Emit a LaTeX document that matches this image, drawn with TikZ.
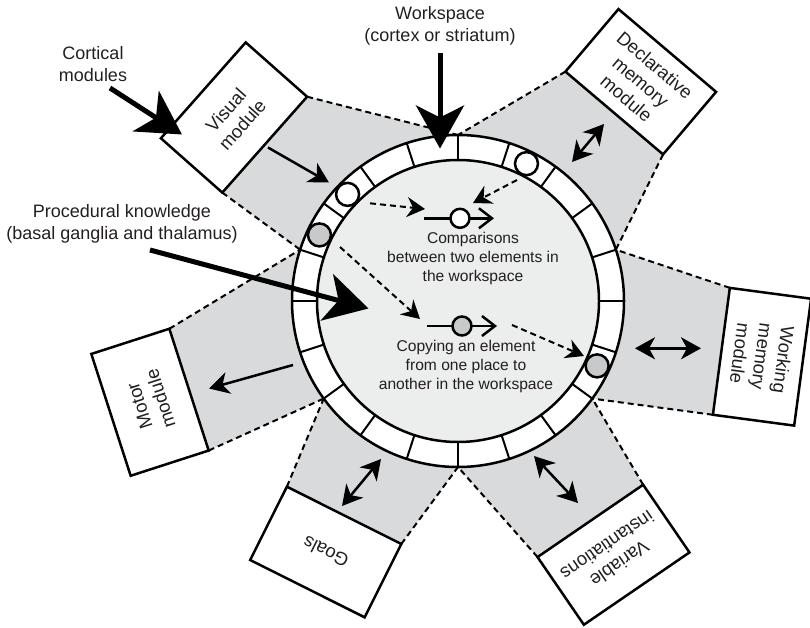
\documentclass[tikz,border=0pt]{standalone}
\usepackage{fontspec}
\setmainfont{Liberation Sans}
\usetikzlibrary{arrows.meta,calc,backgrounds}
\definecolor{sect}{HTML}{D9DADB}
\definecolor{disk}{HTML}{ECEDED}
\definecolor{dotgrey}{HTML}{C8C9CA}
\definecolor{ink}{HTML}{231F20}
\begin{document}
\begin{tikzpicture}[x=1pt,y=1pt,
  modbox/.style={draw=black, line width=2.5pt, fill=white, minimum width=128pt, minimum height=82pt, inner sep=0pt, outer sep=0pt, align=center, text=ink, font=\fontsize{18.5}{22}\selectfont},
  lbl/.style={align=center, text=ink, font=\fontsize{18}{21.7}\selectfont, inner sep=0pt},
  inlbl/.style={align=center, text=ink, font=\fontsize{15.6}{19}\selectfont, inner sep=0pt},
  bnd/.style={line width=2pt, dash pattern=on 6pt off 4pt},
  bigarr/.style={line width=5pt, -{Stealth[length=43pt,width=48pt,inset=12pt]}},
  thinarr/.style={line width=2.5pt, -{Stealth[length=20pt,width=22pt,inset=6pt]}},
  dblarr/.style={line width=2.5pt, {Stealth[length=20pt,width=22pt,inset=6pt]}-{Stealth[length=20pt,width=22pt,inset=6pt]}},
  dasharr/.style={line width=2pt, dash pattern=on 6pt off 4pt, -{Stealth[length=18pt,width=20pt,inset=6pt]}},
  slot/.style={line width=2.5pt, draw=black},
  symline/.style={line width=2.5pt, -{Straight Barb[length=13pt,width=20pt]}}
]
\useasboundingbox (0,0) rectangle (810,-628);
\coordinate (O) at (458,-301);
\foreach \a in {18,90,162,216,270,324} {\coordinate (P\a) at ($(O)+(\a:166)$);}

% module boxes
\node[modbox, rotate=48.5] (vis) at (234,-117.5) {Visual\\module};
\node[modbox, rotate=-40.3] (decl) at (640.75,-81.75) {Declarative\\memory\\module};
\node[modbox, rotate=-97.6] (work) at (762,-356.75) {Working\\memory\\module};
\node[modbox, rotate=-145.6] (var) at (613.5,-554.75) {Variable\\instantiations};
\node[modbox, rotate=153.4] (goal) at (325.75,-552) {Goals};
\node[modbox, rotate=107.9] (mot) at (150,-402.25) {Motor\\module};

% grey sectors
\begin{scope}[on background layer]
\fill[sect] (vis.south east) -- (P90) -- (O) -- (P162) -- (vis.south west) -- cycle;
\fill[sect] (decl.south east) -- (P18) -- (O) -- (P90) -- (decl.south west) -- cycle;
\fill[sect] (work.south east) -- (P324) -- (O) -- (P18) -- (work.south west) -- cycle;
\fill[sect] (var.south east) -- (P270) -- (O) -- (P324) -- (var.south west) -- cycle;
\fill[sect] (goal.south east) -- (P216) -- (O) -- (P270) -- (goal.south west) -- cycle;
\fill[sect] (mot.south east) -- (P162) -- (O) -- (P216) -- (mot.south west) -- cycle;
\end{scope}

% dashed boundaries
\draw[bnd] (vis.south east) -- (P90);
\draw[bnd] (vis.south west) -- (P162);
\draw[bnd] (decl.south east) -- (P18);
\draw[bnd] (decl.south west) -- (P90);
\draw[bnd] (work.south east) -- (P324);
\draw[bnd] (work.south west) -- (P18);
\draw[bnd] (var.south east) -- (P270);
\draw[bnd] (var.south west) -- (P324);
\draw[bnd] (goal.south east) -- (P216);
\draw[bnd] (goal.south west) -- (P270);
\draw[bnd] (mot.south east) -- (P162);
\draw[bnd] (mot.south west) -- (P216);

% workspace ring
\fill[white] (O) circle (166);
\fill[disk] (O) circle (141);
\draw[slot] (O) circle (166);
\draw[slot] (O) circle (141);
\foreach \a in {0,18,...,342} {\draw[line width=2pt] ($(O)+(\a:141)$) -- ($(O)+(\a:166)$);}
\node[circle, draw=black, line width=2.5pt, fill=white, minimum size=23pt, inner sep=0pt] (w1) at ($(O)+(136:153.5)$) {};
\node[circle, draw=black, line width=2.5pt, fill=white, minimum size=23pt, inner sep=0pt] (w2) at ($(O)+(63.5:153.5)$) {};
\node[circle, draw=black, line width=2.5pt, fill=dotgrey, minimum size=23pt, inner sep=0pt] (g1) at ($(O)+(154.5:153.5)$) {};
\node[circle, draw=black, line width=2.5pt, fill=dotgrey, minimum size=23pt, inner sep=0pt] (g2) at ($(O)+(-25:153.5)$) {};

% symbols in the workspace
\coordinate (s1a) at (424,-218.3);
\coordinate (s1b) at (494,-218.3);
\draw[symline] (s1a) -- (s1b);
\node[circle, draw=black, line width=2.5pt, fill=white, minimum size=19pt, inner sep=0pt] (c1) at (460,-218.3) {};
\coordinate (s2a) at (427,-326);
\coordinate (s2b) at (497,-326);
\draw[symline] (s2a) -- (s2b);
\node[circle, draw=black, line width=2.5pt, fill=dotgrey, minimum size=19pt, inner sep=0pt] (c2) at (462,-326) {};

\node[inlbl] (cmp) at (473,-258.5) {Comparisons\\between two elements in\\the workspace};
\node[inlbl] (cpy) at (466,-366) {Copying an element\\from one place to\\another in the workspace};

% dashed arrows
\coordinate (d1a) at (370,-203.3);
\coordinate (d1b) at (425,-209);
\draw[dasharr] (d1a) -- (d1b);
\coordinate (d2a) at (517,-180);
\coordinate (d2b) at (473,-203);
\draw[dasharr] (d2a) -- (d2b);
\coordinate (d3a) at (340,-247);
\coordinate (d3b) at (420,-319);
\draw[dasharr] (d3a) -- (d3b);
\coordinate (d4a) at (512,-325);
\coordinate (d4b) at (584,-356);
\draw[dasharr] (d4a) -- (d4b);

% module arrows
\coordinate (va) at (268,-147.5);
\coordinate (vb) at (329,-182.5);
\draw[thinarr] (va) -- (vb);
\coordinate (ma) at (293,-365);
\coordinate (mb) at (209,-388.5);
\draw[thinarr] (ma) -- (mb);
\coordinate (ga) at (342,-506);
\coordinate (gb) at (381,-459);
\draw[dblarr] (ga) -- (gb);
\coordinate (ia) at (534,-456);
\coordinate (ib) at (578,-503);
\draw[dblarr] (ia) -- (ib);
\coordinate (ka) at (635,-348.3);
\coordinate (kb) at (701,-348.3);
\draw[dblarr] (ka) -- (kb);
\coordinate (ea) at (572,-162);
\coordinate (eb) at (604,-124);
\draw[dblarr] (ea) -- (eb);

% labels and big arrows
\node[lbl] (cort) at (93,-64) {Cortical\\modules};
\node[lbl] (wsp) at (440,-26) {Workspace\\(cortex or striatum)};
\node[lbl] (proc) at (122,-224) {Procedural knowledge\\(basal ganglia and thalamus)};
\coordinate (cta) at (110,-88);
\coordinate (ctb) at (182,-134.5);
\draw[bigarr] (cta) -- (ctb);
\coordinate (wta) at (440,-53);
\coordinate (wtb) at (440,-148.5);
\draw[bigarr] (wta) -- (wtb);
\coordinate (pta) at (150,-250);
\coordinate (ptb) at (368.5,-308.5);
\draw[bigarr] (pta) -- (ptb);
\end{tikzpicture}
\end{document}
